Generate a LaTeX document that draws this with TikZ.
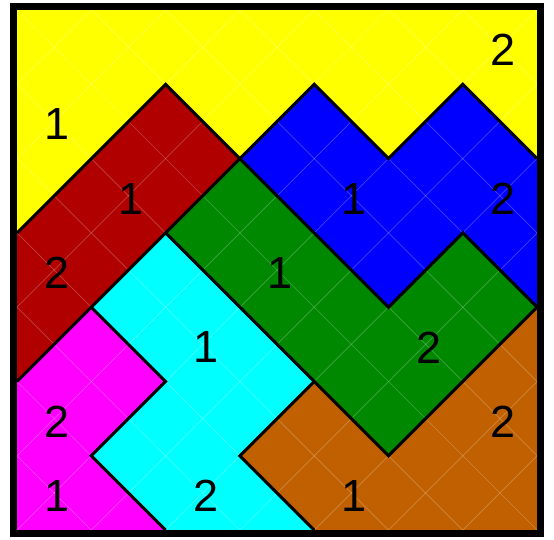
\documentclass[tikz,border=0pt]{standalone}
\usepackage{fontspec}
\setmainfont{Liberation Sans}
\definecolor{cyel}{RGB}{255,255,0}
\definecolor{cred}{RGB}{176,0,0}
\definecolor{cblue}{RGB}{0,0,255}
\definecolor{cgreen}{RGB}{0,136,0}
\definecolor{ccyan}{RGB}{0,255,255}
\definecolor{cmag}{RGB}{255,0,255}
\definecolor{cbrown}{RGB}{192,96,0}
\begin{document}
\begin{tikzpicture}[x=74.3pt,y=-74.3pt,
  region/.style={draw=black,line width=3pt,line join=miter},
  gridline/.style={white,opacity=0.25,line width=0.7pt},
  num/.style={font=\fontsize{45}{45}\selectfont,inner sep=0pt,xshift=3pt,yshift=-3pt}]
\useasboundingbox (-0.2288,-0.1346) rectangle (7.2275,7.12);
% regions
\fill[cyel] (0,0) -- (7,0) -- (7,2) -- (6,1) -- (5,2) -- (4,1) -- (3,2) -- (2,1) -- (0,3) -- cycle;
\fill[cred] (0,3) -- (2,1) -- (3,2) -- (0,5) -- cycle;
\fill[cblue] (3,2) -- (4,1) -- (5,2) -- (6,1) -- (7,2) -- (7,4) -- (6,3) -- (5,4) -- cycle;
\fill[cgreen] (3,2) -- (5,4) -- (6,3) -- (7,4) -- (5,6) -- (4,5) -- (2,3) -- cycle;
\fill[ccyan] (2,3) -- (4,5) -- (3,6) -- (4,7) -- (2,7) -- (1,6) -- (2,5) -- (1,4) -- cycle;
\fill[cmag] (0,5) -- (1,4) -- (2,5) -- (1,6) -- (2,7) -- (0,7) -- cycle;
\fill[cbrown] (7,4) -- (7,7) -- (4,7) -- (3,6) -- (4,5) -- (5,6) -- cycle;
% faint grid
\begin{scope}
\clip (0,0) rectangle (7,7);
\foreach \n in {1,...,13} {\draw[gridline] (\n,0) -- (\n-7,7);}
\foreach \m in {-6,...,6} {\draw[gridline] (\m,0) -- (\m+7,7);}
\end{scope}
% boundaries
\draw[region] (0,3) -- (2,1) -- (3,2) -- (4,1) -- (5,2) -- (6,1) -- (7,2);
\draw[region] (3,2) -- (0,5);
\draw[region] (3,2) -- (5,4) -- (6,3) -- (7,4);
\draw[region] (7,4) -- (5,6) -- (4,5) -- (2,3);
\draw[region] (4,5) -- (3,6) -- (4,7);
\draw[region] (1,4) -- (2,5) -- (1,6) -- (2,7);
% numbers
\node[num] (y1) at (0.5,1.5) {1};
\node[num] (y2) at (6.5,0.5) {2};
\node[num] (r1) at (1.5,2.5) {1};
\node[num] (r2) at (0.5,3.5) {2};
\node[num] (b1) at (4.5,2.5) {1};
\node[num] (b2) at (6.5,2.5) {2};
\node[num] (g1) at (3.5,3.5) {1};
\node[num] (g2) at (5.5,4.5) {2};
\node[num] (c1) at (2.5,4.5) {1};
\node[num] (c2) at (2.5,6.5) {2};
\node[num] (m2) at (0.5,5.5) {2};
\node[num] (m1) at (0.5,6.5) {1};
\node[num] (o2) at (6.5,5.5) {2};
\node[num] (o1) at (4.5,6.5) {1};
% border
\draw[line width=7pt] (-0.0471,-0.0471) rectangle (7.0471,7.0471);
\end{tikzpicture}
\end{document}
